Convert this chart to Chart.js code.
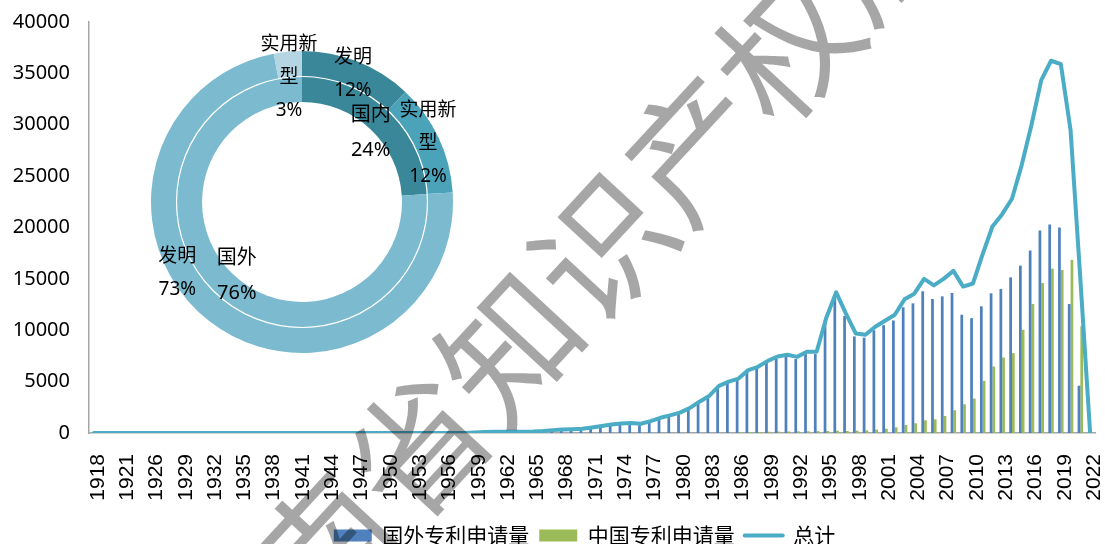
<!DOCTYPE html>
<html><head><meta charset="utf-8">
<script src="https://cdn.jsdelivr.net/npm/chart.js@4.4.1/dist/chart.umd.min.js"></script>
<style>
html,body{margin:0;padding:0;background:#fff;overflow:hidden;width:1105px;height:544px;}
#wrap{position:relative;width:1105px;height:544px;overflow:hidden;background:#fff;}
#main{position:absolute;left:0;top:0;}
#pie{position:absolute;left:132px;top:32px;}
</style></head><body>
<div id="wrap">
<canvas id="main" width="1105" height="556"></canvas>
<canvas id="pie" width="340" height="340"></canvas>
</div>
<script>
// ---------- data ----------
const years = ['1918','1919','1920','1921','1923','1925',
'1926','1927','1928','1929','1930','1931','1932','1933','1934','1935','1936','1937','1938','1939','1940',
'1941','1942','1943','1944','1945','1946','1947','1948','1949','1950','1951','1952','1953','1954','1955',
'1956','1957','1958','1959','1960','1961','1962','1963','1964','1965','1966','1967','1968','1969','1970',
'1971','1972','1973','1974','1975','1976','1977','1978','1979','1980','1981','1982','1983','1984','1985',
'1986','1987','1988','1989','1990','1991','1992','1993','1994','1995','1996','1997','1998','1999','2000',
'2001','2002','2003','2004','2005','2006','2007','2008','2009','2010','2011','2012','2013','2014','2015',
'2016','2017','2018','2019','2020','2021','2022'];

const foreignApps = [0,0,0,0,0,0,
0,0,0,0,0,0,0,0,0,0,0,0,0,0,0,
0,0,0,0,0,0,0,0,0,0,0,0,0,0,0,
0,0,0,
50,100,110,120,120,130,150,200,280,340,
370,420,540,680,820,930,980,900,1150,1480,
1720,1980,2420,3000,3500,4450,4880,5180,5980,6260,
6820,7250,7400,7200,7680,7680,10980,13400,11400,9400,
9280,10000,10500,10950,12230,12620,13790,13040,13300,13630,
11510,11180,12330,13600,14020,15150,16290,17760,19710,20290,
20000,12550,4600,0];

const chinaApps = [0,0,0,0,0,0,
0,0,0,0,0,0,0,0,0,0,0,0,0,0,0,
0,0,0,0,0,0,0,0,0,0,0,0,0,0,0,
0,0,0,
0,0,0,0,0,0,0,0,0,0,
0,0,0,0,0,0,0,0,0,0,
0,0,0,0,0,0,40,60,80,100,
120,140,150,160,170,180,200,220,200,230,
260,330,420,560,780,945,1235,1335,1660,2210,
2800,3350,5070,6470,7350,7770,10050,12550,14600,16000,
15870,16850,10400,0];

const totalApps = [0,0,0,0,0,0,
0,0,0,0,0,0,0,0,0,0,0,0,0,0,0,
0,0,0,0,0,0,0,0,0,0,0,0,0,0,0,
0,0,0,
50,100,110,120,120,130,150,200,280,340,
370,420,540,680,820,930,980,900,1150,1480,
1720,1980,2420,3050,3610,4585,5000,5300,6120,6440,
7020,7450,7610,7410,7900,7900,11250,13690,11620,9690,
9560,10340,10930,11510,13010,13560,15000,14360,15000,15780,
14250,14550,17420,20100,21300,22800,26100,30000,34340,36230,
35900,29460,15000,0];

const seriesNames = ['国外专利申请量','中国专利申请量','总计'];
const yMax = 40000;
const yStep = 5000;

const ringOuterNames = ['发明','实用新型','发明','实用新型'];
const ringOuterValues = [12,12,73,3];
const ringInnerNames = ['国内','国外'];
const ringInnerValues = [24,76];

// ---------- plugins ----------
const watermarkPlugin = {
  id: 'watermark',
  afterDraw(chart, args, o) {
    const ctx = chart.ctx;
    ctx.save();
    ctx.font = o.font;
    ctx.fillStyle = o.color;
    ctx.textAlign = 'center';
    ctx.textBaseline = 'middle';
    [...o.text].forEach((ch, i) => {
      ctx.save();
      ctx.translate(o.x + o.dx * i, o.y + o.dy * i);
      ctx.rotate(o.angle);
      ctx.fillText(ch, 0, 0);
      ctx.restore();
    });
    ctx.restore();
  }
};

// shifts the bottom legend so it is centred under the plot as in the original
const legendShiftPlugin = {
  id: 'legendShift',
  afterLayout(chart, args, o) {
    if (chart.legend) {
      chart.legend.left += o.dx;
      chart.legend.right += o.dx;
    }
  }
};

function wrapName(name, n) {
  const out = [];
  for (let i = 0; i < name.length; i += n) out.push(name.slice(i, i + n));
  return out;
}

const ringLabelPlugin = {
  id: 'ringLabels',
  afterDatasetsDraw(chart, args, o) {
    const ctx = chart.ctx;
    ctx.save();
    const innerArc = chart.getDatasetMeta(1).data[0];
    ctx.beginPath();
    ctx.arc(innerArc.x, innerArc.y, innerArc.outerRadius, 0, Math.PI * 2);
    ctx.strokeStyle = '#ffffff';
    ctx.lineWidth = 1.2;
    ctx.stroke();
    ctx.fillStyle = '#000';
    ctx.textAlign = 'center';
    ctx.textBaseline = 'middle';
    chart.data.datasets.forEach((ds, di) => {
      const meta = chart.getDatasetMeta(di);
      meta.data.forEach((arc, i) => {
        const p = arc.tooltipPosition();
        const off = o.offsets[di][i];
        const lines = wrapName(ds.names[i], 3).concat([ds.data[i] + '%']);
        ctx.font = o.fonts[di];
        const lh = o.lineHeights[di];
        const y0 = p.y + off[1] - (lines.length - 1) * lh / 2;
        lines.forEach((t, k) => ctx.fillText(t, p.x + off[0], y0 + k * lh));
      });
    });
    ctx.restore();
  }
};

// ---------- main chart ----------
const CJK = '"Noto Sans CJK SC"';
new Chart(document.getElementById('main'), {
  data: {
    labels: years,
    datasets: [
      { type: 'bar', label: seriesNames[0], data: foreignApps, backgroundColor: '#4F81BD', borderWidth: 0,
        categoryPercentage: 0.56, barPercentage: 1.0, order: 1 },
      { type: 'bar', label: seriesNames[1], data: chinaApps, backgroundColor: '#9BBB59', borderWidth: 0,
        categoryPercentage: 0.56, barPercentage: 1.0, order: 1 },
      { type: 'line', label: seriesNames[2], data: totalApps, borderColor: '#4BACC6', backgroundColor: '#4BACC6',
        borderWidth: 4, pointRadius: 0, tension: 0, fill: false, order: -1, borderJoinStyle: 'round', borderCapStyle: 'round' }
    ]
  },
  options: {
    responsive: false,
    animation: false,
    events: [],
    layout: { padding: { left: 0, right: 10, top: 22, bottom: 0 } },
    scales: {
      x: {
        offset: true,
        grid: { display: false, drawTicks: false },
        border: { display: true, color: '#A6A6A6', width: 1.5 },
        ticks: {
          autoSkip: false, minRotation: 90, maxRotation: 90, padding: 21, labelOffset: 4,
          color: '#000', font: { size: 21, family: '"Liberation Sans"' },
          callback(v, i) { return i % 3 === 0 ? this.getLabelForValue(v) : ''; }
        },
        afterFit(s) { s.height = 82; s.paddingLeft = 0; s.paddingRight = 0; }
      },
      y: {
        min: 0, max: yMax,
        grid: { display: false, drawTicks: false },
        border: { display: true, color: '#A6A6A6', width: 1.5 },
        ticks: { stepSize: yStep, padding: 19, color: '#000', font: { size: 20, family: '"Noto Sans"' },
          callback: v => String(v) },
        afterFit(s) { s.width = 89; s.paddingTop = 0; s.paddingBottom = 0; }
      }
    },
    plugins: {
      tooltip: { enabled: false },
      legend: {
        position: 'bottom',
        labels: {
          usePointStyle: true, pointStyleWidth: 38, boxHeight: 12, padding: 10,
          color: '#000', font: { size: 21, family: CJK },
          sort: (a, b) => a.datasetIndex - b.datasetIndex,
          generateLabels(chart) {
            const items = Chart.defaults.plugins.legend.labels.generateLabels(chart);
            items.forEach((it) => {
              const ds = chart.data.datasets[it.datasetIndex];
              if (ds.type === 'line') {
                it.pointStyle = 'line'; it.lineWidth = 4; it.strokeStyle = ds.borderColor; it.lineCap = 'round';
              } else {
                it.pointStyle = 'rect'; it.lineWidth = 0; it.fillStyle = ds.backgroundColor;
              }
            });
            return items;
          }
        }
      },
      legendShift: { dx: 37 },
      watermark: {
        text: '河南省知识产权局',
        font: '136px ' + CJK,
        color: 'rgba(0,0,0,0.35)',
        x: 232, y: 647, dx: 92.5, dy: -100,
        angle: Math.atan2(-100, 92.5)
      }
    }
  },
  plugins: [legendShiftPlugin, watermarkPlugin]
});

// ---------- inset doughnut ----------
new Chart(document.getElementById('pie'), {
  type: 'doughnut',
  data: {
    labels: ringOuterNames,
    datasets: [
      { data: ringOuterValues, names: ringOuterNames,
        backgroundColor: ['#3A8799', '#4BA3BA', '#7BBACF', '#B4D5E1'],
        borderWidth: 0, hoverOffset: 0, hoverBorderWidth: 0 },
      { data: ringInnerValues, names: ringInnerNames,
        backgroundColor: ['#3A8799', '#7BBACF'],
        borderWidth: 0, hoverOffset: 0, hoverBorderWidth: 0 }
    ]
  },
  options: {
    responsive: false,
    animation: false,
    events: [],
    cutout: '66.2%',
    layout: { padding: 19 },
    plugins: {
      legend: { display: false },
      tooltip: { enabled: false },
      ringLabels: {
        fonts: ['19px "Noto Sans", ' + CJK, '20px "Noto Sans", ' + CJK],
        lineHeights: [33, 35],
        offsets: [
          [[0, 1], [1, 0], [-40, -38], [0, 13]],
          [[-8.5, 12.5], [12, -8]]
        ]
      }
    }
  },
  plugins: [ringLabelPlugin]
});
</script>
</body></html>
